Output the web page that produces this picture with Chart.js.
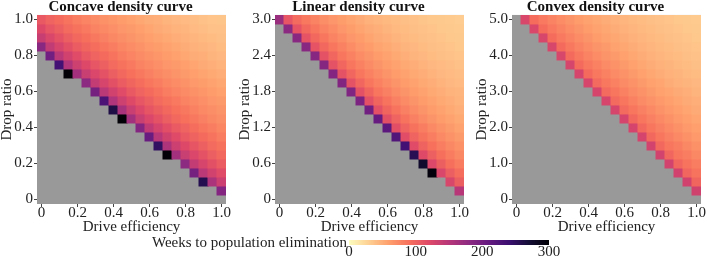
<!DOCTYPE html>
<html>
<head>
<meta charset="utf-8">
<script src="https://cdn.jsdelivr.net/npm/chart.js@4.4.1/dist/chart.umd.min.js"></script>
<style>
  html, body { margin: 0; padding: 0; background: #fff; }
  body { position: relative; width: 707px; height: 259px; overflow: hidden; }
  canvas { position: absolute; }
  #weeks-label {
    position: absolute; left: 0; top: 233px; width: 347px; text-align: right;
    font: 15px 'Liberation Serif', serif; line-height: 18px; color: #222; white-space: nowrap;
  }
</style>
</head>
<body>
<canvas id="concave" width="241" height="236" style="left:0;top:0"></canvas>
<canvas id="linear" width="241" height="236" style="left:238px;top:0"></canvas>
<canvas id="convex" width="241" height="236" style="left:475px;top:0"></canvas>
<div id="weeks-label">Weeks to population elimination</div>
<canvas id="colorbar" width="226" height="23" style="left:339px;top:236px"></canvas>
<script>
// ==================== DATA ====================
// drive efficiency (columns)
const efficiency = [0, 0.05, 0.1, 0.15, 0.2, 0.25, 0.3, 0.35, 0.4, 0.45, 0.5, 0.55, 0.6, 0.65, 0.7, 0.75, 0.8, 0.85, 0.9, 0.95, 1];
const efficiencyTicks = [0, 0.2, 0.4, 0.6, 0.8, 1];
const efficiencyTickText = ['0', '0.2', '0.4', '0.6', '0.8', '1.0'];

// weeks to elimination, rows from top (highest drop ratio) to bottom;
// each row starts at column "first", cells before it never reach elimination (grey)
const concaveRatio = [1, 0.95, 0.9, 0.85, 0.8, 0.75, 0.7, 0.65, 0.6, 0.55, 0.5, 0.45, 0.4, 0.35, 0.3, 0.25, 0.2, 0.15, 0.1, 0.05, 0];
const concaveFirst = [0, 0, 0, 0, 1, 2, 3, 5, 6, 7, 8, 9, 11, 12, 13, 14, 16, 17, 18, 20, 21];
const concaveWeeks = [
  [108, 100, 94, 88, 82, 77, 73, 69, 65, 62, 59, 55, 52, 50, 47, 45, 43, 41, 39, 37, 36],
  [121, 110, 102, 95, 89, 84, 78, 74, 70, 66, 63, 60, 56, 53, 50, 48, 46, 43, 41, 39, 38],
  [138, 124, 113, 104, 96, 91, 85, 80, 75, 71, 67, 63, 60, 57, 54, 51, 49, 46, 44, 42, 40],
  [182, 142, 127, 115, 106, 98, 92, 87, 81, 76, 72, 68, 64, 61, 58, 55, 52, 49, 47, 45, 42],
  [200, 148, 130, 118, 108, 100, 94, 88, 82, 77, 73, 69, 65, 62, 59, 55, 52, 50, 47, 45],
  [235, 155, 134, 121, 110, 102, 95, 89, 84, 78, 74, 70, 66, 63, 60, 56, 53, 50, 48],
  [298, 165, 137, 123, 113, 104, 96, 90, 85, 80, 75, 71, 67, 63, 60, 57, 54, 51],
  [180, 141, 126, 115, 106, 98, 92, 86, 81, 76, 72, 68, 64, 61, 58, 55],
  [197, 147, 130, 118, 108, 100, 94, 88, 82, 77, 73, 69, 65, 62, 59],
  [228, 154, 134, 120, 110, 102, 95, 89, 84, 78, 74, 70, 66, 63],
  [262, 160, 136, 122, 111, 103, 96, 90, 85, 79, 74, 71, 67],
  [298, 165, 137, 123, 113, 104, 96, 90, 85, 80, 75, 71],
  [186, 143, 128, 116, 107, 99, 92, 87, 81, 76],
  [207, 150, 131, 119, 108, 101, 94, 88, 82],
  [248, 157, 135, 121, 111, 102, 95, 89],
  [298, 165, 137, 123, 113, 104, 96],
  [180, 141, 126, 115, 106],
  [197, 147, 130, 118],
  [257, 159, 135],
  [186],
  []
];
const concaveTicks = [0, 0.2, 0.4, 0.6, 0.8, 1];
const concaveTickText = ['0', '0.2', '0.4', '0.6', '0.8', '1.0'];

const linearRatio = [3, 2.85, 2.7, 2.55, 2.4, 2.25, 2.1, 1.95, 1.8, 1.65, 1.5, 1.35, 1.2, 1.05, 0.9, 0.75, 0.6, 0.45, 0.3, 0.15, 0];
const linearFirst = [0, 1, 2, 3, 4, 5, 6, 7, 8, 9, 10, 11, 12, 13, 14, 15, 16, 17, 19, 20, 21];
const linearWeeks = [
  [170, 110, 95, 85, 78, 71, 66, 61, 57, 53, 49, 46, 44, 42, 40, 38, 36, 35, 34, 33, 32],
  [180, 112, 96, 86, 78, 72, 66, 61, 57, 53, 50, 47, 44, 42, 40, 38, 37, 35, 34, 33],
  [182, 112, 96, 86, 78, 72, 66, 62, 57, 53, 50, 47, 44, 42, 40, 38, 37, 35, 34],
  [183, 112, 96, 86, 79, 72, 66, 62, 57, 54, 50, 47, 45, 42, 40, 39, 37, 35],
  [184, 113, 97, 86, 79, 72, 67, 62, 58, 54, 50, 47, 45, 42, 40, 39, 37],
  [185, 113, 97, 87, 79, 73, 67, 62, 58, 54, 51, 48, 45, 43, 41, 39],
  [186, 113, 97, 87, 79, 73, 67, 62, 58, 54, 51, 48, 45, 43, 41],
  [188, 113, 97, 87, 79, 73, 67, 62, 58, 54, 51, 48, 45, 43],
  [189, 114, 98, 87, 80, 73, 67, 62, 58, 54, 51, 48, 46],
  [192, 114, 98, 88, 80, 73, 67, 62, 58, 54, 51, 48],
  [200, 114, 98, 88, 80, 73, 67, 62, 58, 54, 50],
  [208, 115, 99, 88, 80, 73, 67, 62, 58, 54],
  [216, 116, 99, 89, 81, 74, 68, 63, 58],
  [224, 117, 100, 89, 81, 74, 68, 63],
  [235, 118, 101, 90, 82, 75, 69],
  [255, 120, 102, 91, 83, 75],
  [275, 122, 103, 91, 83],
  [295, 124, 104, 92],
  [125, 103],
  [150],
  []
];
const linearTicks = [0, 0.6, 1.2, 1.8, 2.4, 3];
const linearTickText = ['0', '0.6', '1.2', '1.8', '2.4', '3.0'];

const convexRatio = [5, 4.75, 4.5, 4.25, 4, 3.75, 3.5, 3.25, 3, 2.75, 2.5, 2.25, 2, 1.75, 1.5, 1.25, 1, 0.75, 0.5, 0.25, 0];
const convexFirst = [1, 2, 3, 4, 5, 6, 7, 8, 9, 10, 11, 12, 13, 14, 15, 16, 17, 18, 19, 20, 21];
const convexWeeks = [
  [124, 93, 84, 78, 72, 67, 62, 58, 55, 52, 49, 46, 44, 42, 40, 38, 37, 35, 34, 33],
  [124, 93, 84, 78, 72, 67, 62, 58, 55, 52, 49, 46, 44, 42, 40, 38, 37, 35, 34],
  [125, 93, 84, 78, 72, 67, 62, 58, 55, 52, 49, 46, 44, 42, 40, 38, 37, 35],
  [125, 94, 85, 78, 72, 67, 63, 58, 55, 52, 49, 46, 44, 42, 40, 38, 37],
  [125, 94, 85, 78, 72, 67, 63, 59, 55, 52, 49, 46, 44, 42, 40, 38],
  [126, 94, 85, 79, 73, 68, 63, 59, 55, 52, 49, 47, 44, 42, 40],
  [126, 94, 85, 79, 73, 68, 63, 59, 55, 52, 49, 47, 44, 42],
  [126, 95, 85, 79, 73, 68, 63, 59, 56, 52, 49, 47, 45],
  [127, 95, 86, 79, 73, 68, 63, 59, 56, 53, 50, 47],
  [127, 95, 86, 79, 73, 68, 64, 60, 56, 53, 50],
  [127, 95, 86, 80, 74, 68, 64, 60, 56, 53],
  [128, 96, 86, 80, 74, 69, 64, 60, 56],
  [128, 96, 87, 80, 74, 69, 64, 60],
  [128, 96, 87, 80, 74, 69, 64],
  [129, 96, 87, 81, 75, 69],
  [129, 97, 87, 81, 75],
  [129, 97, 88, 81],
  [130, 97, 88],
  [130, 98],
  [131],
  []
];
const convexTicks = [0, 1, 2, 3, 4, 5];
const convexTickText = ['0', '1.0', '2.0', '3.0', '4.0', '5.0'];

// colour bar
const weeksMax = 300;
const weeksTicks = [0, 100, 200, 300];
const weeksTickText = ['0', '100', '200', '300'];

// ==================== STYLE ====================
const GREY = '#999999';
const INK = '#222222';
const SERIF = "'Liberation Serif', 'Times New Roman', serif";
// magma, dark -> light
const magmaStops = ['#000004', '#140e36', '#3b0f70', '#641a80', '#8c2981', '#b73779', '#de4968', '#f7705c', '#fe9f6d', '#fecf92', '#fcfdbf'];

Chart.defaults.font.family = SERIF;
Chart.defaults.color = INK;

let hexRgb = (h) => [1, 3, 5].map(i => parseInt(h.slice(i, i + 2), 16));

let weeksColor = (v) => {
  const t = Math.max(0, Math.min(1, 1 - v / weeksMax)) * 10;
  const i = Math.min(9, Math.floor(t));
  const f = t - i;
  const a = hexRgb(magmaStops[i]);
  const b = hexRgb(magmaStops[i + 1]);
  const c = a.map((x, k) => Math.round(x + (b[k] - x) * f));
  return `rgb(${c[0]},${c[1]},${c[2]})`;
};

// grey behind the cells: combinations that never eliminate
const plotBg = {
  id: 'plotBg',
  beforeDatasetsDraw(chart) {
    const { ctx, chartArea: a } = chart;
    ctx.save();
    ctx.fillStyle = GREY;
    ctx.fillRect(a.left, a.top, a.right - a.left, a.bottom - a.top);
    ctx.restore();
  }
};

// ==================== HEATMAPS ====================
let buildRows = (ratio, first, weeks) => {
  const half = Math.abs(ratio[0] - ratio[1]) / 2;
  return ratio.map((r, j) => {
    const cell = (i) => (i >= first[j] ? weeks[j][i - first[j]] : undefined);
    return {
      data: efficiency.map((e, i) => (cell(i) != null ? [r - half, r + half] : null)),
      backgroundColor: efficiency.map((e, i) => (cell(i) != null ? weeksColor(cell(i)) : 'rgba(0,0,0,0)')),
      grouped: false,
      barPercentage: 1,
      categoryPercentage: 1,
      borderWidth: 0,
      inflateAmount: 0.5
    };
  });
};

let makePanel = (id, title, ratio, first, weeks, yTicks, yTickText) => {
  const half = Math.abs(ratio[0] - ratio[1]) / 2;
  const tickGrid = { display: true, drawOnChartArea: false, drawTicks: true, tickLength: 3, tickColor: '#444' };
  return new Chart(document.getElementById(id), {
    type: 'bar',
    data: { labels: efficiency, datasets: buildRows(ratio, first, weeks) },
    options: {
      responsive: false,
      animation: false,
      devicePixelRatio: 1,
      events: [],
      layout: { padding: 0 },
      plugins: {
        legend: { display: false },
        tooltip: { enabled: false },
        title: {
          display: true,
          text: title,
          color: '#111',
          font: { family: SERIF, size: 15, weight: 'bold', lineHeight: 0.93 },
          padding: { top: 0, bottom: 1 }
        }
      },
      scales: {
        x: {
          type: 'category',
          offset: true,
          grid: Object.assign({ offset: false }, tickGrid),
          border: { display: false },
          ticks: {
            padding: 0,
            maxRotation: 0,
            autoSkip: false,
            font: { family: SERIF, size: 15, lineHeight: 0.8 },
            callback: (v, i) => efficiencyTickText[i]
          },
          afterBuildTicks: (s) => { s.ticks = efficiencyTicks.map(v => ({ value: efficiency.indexOf(v) })); },
          afterFit: (s) => { s.height = 32; },
          title: {
            display: true,
            text: 'Drive efficiency',
            font: { family: SERIF, size: 15, lineHeight: 1 },
            padding: { top: 0, bottom: 1 }
          }
        },
        y: {
          type: 'linear',
          min: ratio[ratio.length - 1] - half,
          max: ratio[0] + half,
          grid: tickGrid,
          border: { display: false },
          ticks: {
            padding: 1,
            font: { family: SERIF, size: 15, lineHeight: 1 },
            callback: (v, i) => yTickText[i]
          },
          afterBuildTicks: (s) => { s.ticks = yTicks.map(v => ({ value: v })); },
          afterFit: (s) => { s.width = 37; },
          title: {
            display: true,
            text: 'Drop ratio',
            font: { family: SERIF, size: 15, lineHeight: 1 },
            padding: { top: 0, bottom: 0 }
          }
        },
        // empty strip on the right so the panel title sits centred on the whole panel
        yRight: {
          type: 'linear',
          position: 'right',
          grid: { display: false },
          border: { display: false },
          ticks: { display: false },
          afterFit: (s) => { s.width = 15; }
        }
      }
    },
    plugins: [plotBg]
  });
};

makePanel('concave', 'Concave density curve', concaveRatio, concaveFirst, concaveWeeks, concaveTicks, concaveTickText);
makePanel('linear', 'Linear density curve', linearRatio, linearFirst, linearWeeks, linearTicks, linearTickText);
makePanel('convex', 'Convex density curve', convexRatio, convexFirst, convexWeeks, convexTicks, convexTickText);

// ==================== COLOUR BAR ====================
let barGradient = (chart) => {
  const a = chart.chartArea;
  if (!a) return magmaStops[6];
  const g = chart.ctx.createLinearGradient(a.left, 0, a.right, 0);
  magmaStops.forEach((c, i) => g.addColorStop(1 - i / 10, c));
  return g;
};

new Chart(document.getElementById('colorbar'), {
  type: 'bar',
  data: {
    labels: ['weeks'],
    datasets: [{
      data: [[weeksTicks[0], weeksMax]],
      backgroundColor: (ctx) => barGradient(ctx.chart),
      barPercentage: 1,
      categoryPercentage: 1,
      borderWidth: 0
    }]
  },
  options: {
    indexAxis: 'y',
    responsive: false,
    animation: false,
    devicePixelRatio: 1,
    events: [],
    layout: { padding: { left: 10, right: 16, top: 4, bottom: 0 } },
    plugins: { legend: { display: false }, tooltip: { enabled: false } },
    scales: {
      x: {
        type: 'linear',
        min: 0,
        max: weeksMax,
        grid: { display: false, drawTicks: false, tickLength: 0 },
        border: { display: false },
        ticks: { padding: 0, font: { family: SERIF, size: 15, lineHeight: 1 }, callback: (v, i) => weeksTickText[i] },
        afterBuildTicks: (s) => { s.ticks = weeksTicks.map(v => ({ value: v })); },
        afterFit: (s) => { s.height = 14; }
      },
      y: { display: false }
    }
  }
});
</script>
</body>
</html>
